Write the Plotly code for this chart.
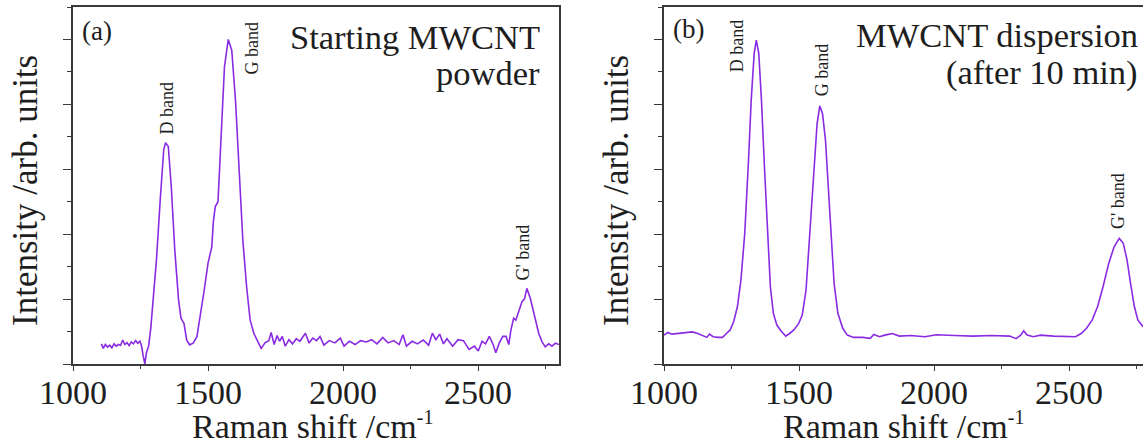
import plotly.graph_objects as go

# ---------------- data ----------------
# Panel (a): starting MWCNT powder
a_x = [1105, 1112, 1120, 1128, 1136, 1144, 1152, 1160, 1168, 1176, 1184, 1192, 1200, 1208,
       1216, 1224, 1232, 1240, 1248, 1254, 1260, 1266, 1272, 1280, 1288, 1296, 1309, 1323,
       1336, 1343, 1353, 1364, 1377, 1391, 1400, 1411, 1421, 1432, 1445, 1459, 1473, 1486,
       1500, 1514, 1520, 1527, 1537, 1548, 1561, 1575, 1588, 1602, 1616, 1629, 1643, 1656,
       1670, 1684, 1697, 1711, 1725, 1734, 1745, 1756, 1765, 1775, 1786, 1800, 1813, 1827,
       1840, 1861, 1874, 1888, 1902, 1915, 1929, 1949, 1970, 1990, 2004, 2024, 2045, 2065,
       2086, 2106, 2126, 2147, 2167, 2188, 2208, 2222, 2235, 2256, 2276, 2297, 2317, 2331,
       2344, 2358, 2372, 2385, 2406, 2426, 2446, 2467, 2487, 2501, 2515, 2528, 2542, 2556,
       2566, 2579, 2592, 2604, 2614, 2622, 2632, 2640, 2651, 2663, 2672, 2681, 2694, 2706,
       2715, 2725, 2737, 2749, 2762, 2774, 2787, 2800]
a_y = [0.62, 0.48, 0.60, 0.52, 0.58, 0.50, 0.62, 0.55, 0.60, 0.57, 0.74, 0.60, 0.66, 0.57,
       0.68, 0.62, 0.72, 0.64, 0.70, 0.55, 0.25, 0.00, 0.35, 0.55, 1.10, 1.97, 3.20, 5.05,
       6.60, 6.82, 6.70, 5.46, 3.51, 1.97, 1.41, 1.25, 0.74, 0.59, 0.64, 0.84, 1.56, 2.28,
       3.10, 3.61, 4.40, 4.85, 5.00, 6.90, 9.16, 10.00, 9.67, 8.10, 5.77, 3.82, 2.38, 1.36,
       0.94, 0.69, 0.48, 0.65, 0.72, 0.97, 0.60, 0.88, 0.70, 0.85, 0.55, 0.75, 0.62, 0.78,
       0.70, 0.95, 0.65, 0.80, 0.72, 0.85, 0.58, 0.72, 0.65, 0.80, 0.55, 0.70, 0.60, 0.72,
       0.68, 0.75, 0.62, 0.82, 0.65, 0.72, 0.60, 0.90, 0.55, 0.70, 0.62, 0.74, 0.58, 0.95,
       0.75, 0.92, 0.62, 0.78, 0.55, 0.75, 0.72, 0.45, 0.55, 0.40, 0.70, 0.62, 0.85, 0.60,
       0.35, 0.65, 0.85, 0.85, 0.60, 1.05, 1.41, 1.35, 1.62, 1.92, 2.00, 2.33, 2.02, 1.62,
       1.25, 0.94, 0.69, 0.53, 0.62, 0.55, 0.64, 0.60]

# Panel (b): MWCNT dispersion after 10 min
b_x = [1000, 1014, 1030, 1057, 1084, 1105, 1125, 1145, 1159, 1168, 1182, 1200, 1217, 1231,
       1245, 1258, 1272, 1285, 1299, 1313, 1323, 1334, 1342, 1351, 1361, 1372, 1383, 1394,
       1405, 1418, 1435, 1451, 1465, 1481, 1499, 1512, 1526, 1539, 1553, 1567, 1577, 1587,
       1598, 1609, 1620, 1630, 1644, 1662, 1679, 1702, 1736, 1764, 1777, 1798, 1818, 1845,
       1872, 1913, 1967, 2008, 2076, 2144, 2212, 2280, 2304, 2321, 2332, 2345, 2368, 2395,
       2443, 2484, 2524, 2545, 2565, 2586, 2606, 2626, 2647, 2667, 2686, 2701, 2715, 2728,
       2742, 2755, 2774]
b_y = [0.89, 0.97, 0.92, 0.94, 0.97, 0.99, 0.94, 0.86, 0.82, 0.92, 0.84, 0.82, 0.82, 0.94,
       1.05, 1.30, 1.77, 2.59, 4.02, 6.28, 8.13, 9.57, 9.98, 9.57, 8.13, 6.08, 4.02, 2.38,
       1.56, 1.20, 1.00, 0.86, 0.94, 1.05, 1.25, 1.51, 2.28, 3.82, 5.77, 7.41, 7.95, 7.72,
       6.90, 5.46, 3.82, 2.48, 1.56, 1.10, 0.89, 0.82, 0.82, 0.79, 0.91, 0.84, 0.89, 0.94,
       0.86, 0.88, 0.84, 0.90, 0.88, 0.86, 0.88, 0.86, 0.78, 0.89, 1.02, 0.89, 0.84, 0.89,
       0.86, 0.86, 0.84, 0.94, 1.10, 1.36, 1.77, 2.38, 3.10, 3.61, 3.87, 3.72, 3.20, 2.48,
       1.77, 1.36, 1.15]

# Band labels: (text, x, y) in data units
a_labels = [("D band", 1348, 7.9), ("G band", 1663, 9.72), ("G' band", 2668, 3.45)]
b_labels = [("D band", 1270, 9.82), ("G band", 1585, 9.08), ("G' band", 2681, 5.02)]

x_tickvals = [1000, 1500, 2000, 2500]
x_ticktext = ["1000", "1500", "2000", "2500"]

# ---------------- styling ----------------
W, H = 1143, 445
FONT = "Liberation Serif"
LINE = "#8a2be2"
AX = "#3a3a3a"
TXT = "#1e1e1e"

fig = go.Figure()
fig.add_trace(go.Scatter(x=a_x, y=a_y, mode="lines", line=dict(color=LINE, width=1.6),
                         xaxis="x", yaxis="y", showlegend=False, hoverinfo="skip"))
fig.add_trace(go.Scatter(x=b_x, y=b_y, mode="lines", line=dict(color=LINE, width=1.6),
                         xaxis="x2", yaxis="y2", showlegend=False, hoverinfo="skip"))

def xax(domain, rng, anchor):
    return dict(domain=domain, range=rng, anchor=anchor, showline=True, mirror=True,
                linecolor=AX, linewidth=1.6, ticks="outside", ticklen=5, tickwidth=1.2,
                tickcolor=AX, tickvals=x_tickvals, ticktext=x_ticktext,
                tickfont=dict(family=FONT, size=34, color=TXT), showgrid=False,
                zeroline=False, automargin=False, ticklabelstandoff=-8,
                minor=dict(tick0=1000, dtick=250, ticks="outside", ticklen=3, tickwidth=1.2,
                           tickcolor=AX, showgrid=False))

def yax(domain, anchor, mirror):
    return dict(domain=domain, range=[0, 11], anchor=anchor, showline=True, mirror=mirror,
                linecolor=AX, linewidth=1.6, ticks="outside", ticklen=8, tickwidth=1.2,
                tickcolor=AX, tick0=0, dtick=2, showticklabels=False, showgrid=False,
                zeroline=False, automargin=False,
                minor=dict(tick0=0, dtick=1, ticks="outside", ticklen=4, tickwidth=1.2,
                           tickcolor=AX, showgrid=False))

ydom = [(H - 364) / H, (H - 7) / H]
fig.update_layout(
    width=W, height=H, margin=dict(l=0, r=0, t=0, b=0),
    paper_bgcolor="white", plot_bgcolor="white",
    xaxis=xax([73 / W, 559 / W], [1000, 2800], "y"),
    yaxis=yax(ydom, "x", True),
    xaxis2=xax([664 / W, 1.0], [1000, 2774], "y2"),
    yaxis2=yax(ydom, "x2", False),
)

ann = []
def paper_text(text, x, y, size, xanchor="center", angle=0):
    ann.append(dict(text=text, x=x / W, y=1 - y / H, xref="paper", yref="paper",
                    xanchor=xanchor, yanchor="middle", showarrow=False, textangle=angle,
                    font=dict(family=FONT, size=size, color=TXT)))

# axis titles
XT = "Raman shift /cm<sup><span style='font-size:20px'>-1</span></sup>"
for x0 in (0, 591):
    paper_text("Intensity /arb. units", 25 + x0, 191, 35, angle=-90)
    paper_text(XT, 312 + x0, 425, 34)

# panel letters and headers
paper_text("(a)", 97, 31, 27)
paper_text("(b)", 688, 29, 27)
paper_text("Starting MWCNT", 542, 37, 34.5, xanchor="right")
paper_text("powder", 542, 73, 34.5, xanchor="right")
paper_text("MWCNT dispersion", 1140, 35, 34.5, xanchor="right")
paper_text("(after 10 min)", 1140, 72, 34.5, xanchor="right")

for labels, xr, yr in ((a_labels, "x", "y"), (b_labels, "x2", "y2")):
    for t, lx, ly in labels:
        ann.append(dict(text=t, x=lx, y=ly, xref=xr, yref=yr, showarrow=False,
                        textangle=-90, xanchor="center", yanchor="middle",
                        font=dict(family=FONT, size=18, color=TXT)))

fig.update_layout(annotations=ann)
fig.write_html("out.html", config={"displayModeBar": False},
               post_script="document.body.style.margin='0';document.body.style.overflow='hidden';")
